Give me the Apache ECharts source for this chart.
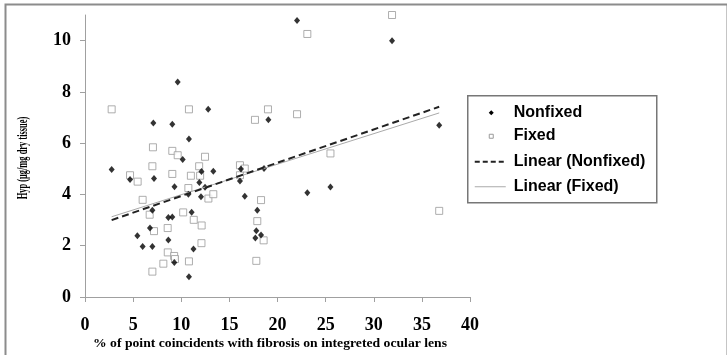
<!DOCTYPE html>
<html>
<head>
<meta charset="utf-8">
<script src="https://cdn.jsdelivr.net/npm/echarts@6/dist/echarts.min.js"></script>
<style>
html,body{margin:0;padding:0;background:#fff;}
#chart{width:727px;height:355px;}
</style>
</head>
<body>
<div id="chart"></div>
<script>
// ---- data ----
const seriesNames = ['Nonfixed', 'Fixed', 'Linear (Nonfixed)', 'Linear (Fixed)'];
const xTicks = [0, 5, 10, 15, 20, 25, 30, 35, 40];
const yTicks = [0, 2, 4, 6, 8, 10];
const xTitle = '% of point coincidents with fibrosis on integreted ocular lens';
const yTitle = 'Hyp (\u03bcg/mg dry tissue)';

const nonfixed = [
  [2.77,4.97],[4.68,4.58],[5.44,2.39],[5.99,1.97],[6.75,2.69],[7.0,1.97],[7.0,3.38],
  [7.1,6.79],[7.17,4.62],[8.66,3.1],[8.66,2.22],[9.07,3.12],[9.07,6.74],[9.28,1.35],
  [9.3,4.3],[9.63,8.39],[10.15,5.36],[10.74,4.01],[10.8,6.16],[10.8,0.79],[11.08,3.31],
  [11.27,1.87],[11.88,4.47],[12.05,3.91],[12.1,4.9],[12.47,4.28],[12.8,7.32],[13.33,4.91],
  [16.1,4.52],[16.2,4.99],[16.6,3.93],[17.7,2.3],[17.8,2.58],[17.9,3.38],[18.29,2.42],
  [18.6,5.01],[19.05,6.91],[22.03,10.79],[23.1,4.07],[25.5,4.29],[31.9,10.0],[36.8,6.7]
];
const fixed = [
  [2.77,7.32],[4.68,4.75],[5.47,4.5],[5.99,3.79],[6.72,3.21],[7.0,5.1],[7.0,0.99],
  [7.06,5.84],[7.17,2.57],[8.14,1.3],[8.59,2.69],[8.6,1.74],[9.07,5.7],[9.07,4.8],
  [9.26,1.6],[9.35,1.48],[9.63,5.53],[10.2,3.3],[10.74,4.25],[10.8,7.32],[10.8,1.39],
  [11.0,4.73],[11.3,3.01],[11.86,5.1],[11.96,4.73],[12.1,2.1],[12.12,2.79],[12.47,5.47],
  [12.82,3.84],[13.33,4.01],[16.1,5.14],[16.1,4.75],[16.6,5.01],[17.66,6.91],[17.8,1.41],
  [17.9,2.96],[18.29,3.78],[18.56,2.21],[19.01,7.32],[22.03,7.13],[23.1,10.26],[25.5,5.6],
  [31.9,11.0],[36.8,3.36]
];
const trendNonfixed = [[2.77,3.0],[36.8,7.42]];
const trendFixed = [[2.77,3.13],[36.8,7.18]];

const chart = echarts.init(document.getElementById('chart'), null, {renderer:'canvas'});
const serif = '"Liberation Serif", "Times New Roman", serif';
const sans = '"Liberation Sans", Arial, sans-serif';
const axisGrey = '#a0a0a0';
const legendFont = 'bold 16px ' + sans;

// legend drawn as graphic elements (box, markers, lines, labels)
const LX = 467, LY = 95;
const legendGraphic = {
  type: 'group', left: LX, top: LY, z: 10,
  children: [
    {type: 'rect', shape: {x: 0, y: 0, width: 189, height: 107},
     style: {fill: '#fff', stroke: '#777', lineWidth: 1.5}},
    {type: 'polygon', shape: {points: [[23.5,14.5],[26,17],[23.5,19.5],[21,17]]}, style: {fill: '#000'}},
    {type: 'rect', shape: {x: 21.5, y: 38.5, width: 4, height: 4},
     style: {fill: '#fff', stroke: '#9a9a9a', lineWidth: 1}},
    {type: 'line', shape: {x1: 7, y1: 66, x2: 38, y2: 66},
     style: {stroke: '#222', lineWidth: 2, lineDash: [5, 3]}},
    {type: 'line', shape: {x1: 7, y1: 91, x2: 38, y2: 91},
     style: {stroke: '#aaa', lineWidth: 1}},
    {type: 'text', x: 46, y: 17, style: {text: seriesNames[0], font: legendFont, fill: '#000', verticalAlign: 'middle'}},
    {type: 'text', x: 46, y: 39.5, style: {text: seriesNames[1], font: legendFont, fill: '#000', verticalAlign: 'middle'}},
    {type: 'text', x: 46, y: 65.5, style: {text: seriesNames[2], font: legendFont, fill: '#000', verticalAlign: 'middle'}},
    {type: 'text', x: 46, y: 91, style: {text: seriesNames[3], font: legendFont, fill: '#000', verticalAlign: 'middle'}}
  ]
};

chart.setOption({
  animation: false,
  backgroundColor: '#fff',
  graphic: [
    {type: 'rect', left: 3, top: 2, z: 0, silent: true,
     shape: {width: 722, height: 420},
     style: {fill: 'none', stroke: '#8c8c8c', lineWidth: 2}},
    legendGraphic,
    {type: 'text', x: 270, y: 344, z: 10, scaleX: 1.14,
     style: {text: xTitle, font: 'bold 12px ' + serif, fill: '#000', align: 'center', verticalAlign: 'middle'}},
    {type: 'text', x: 23, y: 158, z: 10, rotation: Math.PI / 2, scaleX: 0.6,
     style: {text: yTitle, font: 'bold 14px ' + serif, fill: '#000', align: 'center', verticalAlign: 'middle'}}
  ],
  grid: {left: 85, right: 257, top: 15, bottom: 58, containLabel: false},
  xAxis: {
    type: 'value', min: 0, max: 40, interval: 5,
    axisLine: {show: true, lineStyle: {color: axisGrey, width: 1}},
    axisTick: {show: true, length: 5, lineStyle: {color: axisGrey}},
    axisLabel: {margin: 19, fontFamily: serif, fontWeight: 'bold', fontSize: 18, color: '#000',
      customValues: xTicks},
    splitLine: {show: false}
  },
  yAxis: {
    type: 'value', min: 0, max: 11, interval: 2,
    axisLine: {show: true, lineStyle: {color: axisGrey, width: 1}},
    axisTick: {show: true, length: 5, lineStyle: {color: axisGrey}, customValues: yTicks},
    axisLabel: {margin: 14, fontFamily: serif, fontWeight: 'bold', fontSize: 18, color: '#000',
      customValues: yTicks},
    splitLine: {show: false}
  },
  series: [
    {
      name: seriesNames[0], type: 'scatter', data: nonfixed,
      symbol: 'diamond', symbolSize: [6, 7],
      itemStyle: {color: '#000'}, z: 3
    },
    {
      name: seriesNames[1], type: 'scatter', data: fixed,
      symbol: 'rect', symbolSize: 7,
      itemStyle: {color: '#fff', borderColor: '#9a9a9a', borderWidth: 1}, z: 2
    },
    {
      name: seriesNames[2], type: 'line', data: trendNonfixed,
      symbol: 'none', showSymbol: false,
      lineStyle: {color: '#222', width: 2, type: [7, 4]}, z: 5
    },
    {
      name: seriesNames[3], type: 'line', data: trendFixed,
      symbol: 'none', showSymbol: false,
      lineStyle: {color: '#aaa', width: 1, type: 'solid'}, z: 4
    }
  ]
});
</script>
</body>
</html>
